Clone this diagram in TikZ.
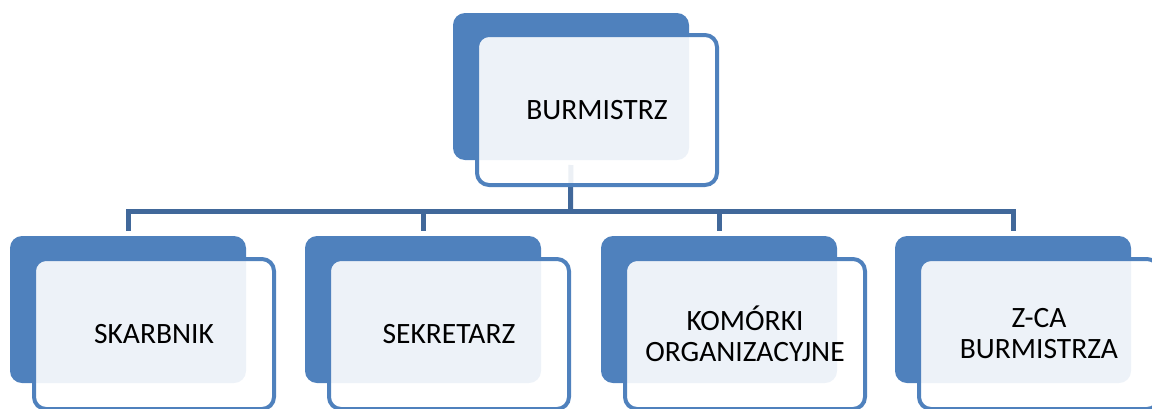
\documentclass[tikz,border=0pt]{standalone}
\usepackage{fontspec}
\setmainfont{Carlito}
\definecolor{boxblue}{HTML}{4F81BD}
\definecolor{linkblue}{HTML}{41689A}
\begin{document}
\begin{tikzpicture}[x=1pt,y=-1pt,
  backbox/.style={rectangle, rounded corners=12pt, fill=boxblue, draw=none,
    minimum width=236pt, minimum height=147pt, inner sep=0pt, outer sep=0pt, anchor=north west},
  frontbox/.style={rectangle, rounded corners=12pt, fill=white, fill opacity=0.9, text opacity=1,
    draw=boxblue, line width=4pt, minimum width=240pt, minimum height=150pt,
    inner sep=0pt, outer sep=0pt, anchor=north west, align=center,
    font=\fontsize{29.5}{31}\selectfont, text=black},
  link/.style={draw=linkblue, line width=5pt}]
\useasboundingbox (0,0) rectangle (1152,408);

% back boxes
\node[backbox] (tb) at (453,13) {};
\node[backbox] (b1) at (10,236) {};
\node[backbox] (b2) at (305,236) {};
\node[backbox] (b3) at (601,236) {};
\node[backbox] (b4) at (895,236) {};

% connectors
\coordinate (hub) at (570.5,211);
\draw[link, shorten <=5pt] (tb.south) -- (hub);
\draw[link, shorten <=5pt, shorten >=5pt] (b1.north) |- (hub) -| (b4.north);
\draw[link, shorten >=5pt] (hub -| b2.north) -- (b2.north);
\draw[link, shorten >=5pt] (hub -| b3.north) -- (b3.north);

% front boxes
\node[frontbox] (tf) at (477,35) {BURMISTRZ};
\node[frontbox] (f1) at (34,259) {SKARBNIK};
\node[frontbox] (f2) at (329,259) {SEKRETARZ};
\node[frontbox] (f3) at (625,259) {KOMÓRKI\\ORGANIZACYJNE};
\node[frontbox] (f4) at (919,259) {Z-CA\\BURMISTRZA};
\end{tikzpicture}
\end{document}
